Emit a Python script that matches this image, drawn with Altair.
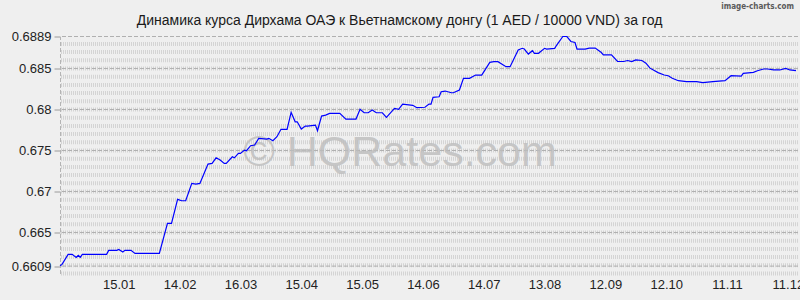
import altair as alt
import pandas as pd

# ---- data ----
dates = [
    "2022-12-17", "2022-12-18", "2022-12-21", "2022-12-23", "2022-12-25", "2022-12-26",
    "2022-12-27", "2022-12-28", "2023-01-09", "2023-01-10", "2023-01-14", "2023-01-15",
    "2023-01-17", "2023-01-18", "2023-01-21", "2023-01-23", "2023-02-04", "2023-02-08",
    "2023-02-10", "2023-02-13", "2023-02-15", "2023-02-17", "2023-02-20", "2023-02-22",
    "2023-02-24", "2023-02-28", "2023-03-02", "2023-03-04", "2023-03-06", "2023-03-08",
    "2023-03-09", "2023-03-12", "2023-03-13", "2023-03-15", "2023-03-16", "2023-03-18",
    "2023-03-19", "2023-03-21", "2023-03-23", "2023-03-25", "2023-03-29", "2023-03-30",
    "2023-04-01", "2023-04-03", "2023-04-05", "2023-04-08", "2023-04-10", "2023-04-12",
    "2023-04-13", "2023-04-15", "2023-04-17", "2023-04-18", "2023-04-22", "2023-04-23",
    "2023-04-25", "2023-04-27", "2023-04-29", "2023-05-04", "2023-05-07", "2023-05-12",
    "2023-05-14", "2023-05-16", "2023-05-18", "2023-05-20", "2023-05-22", "2023-05-25",
    "2023-05-27", "2023-05-31", "2023-06-02", "2023-06-04", "2023-06-09", "2023-06-11",
    "2023-06-15", "2023-06-17", "2023-06-18", "2023-06-19", "2023-06-22", "2023-06-23",
    "2023-06-25", "2023-06-28", "2023-06-29", "2023-07-02", "2023-07-04", "2023-07-07",
    "2023-07-10", "2023-07-13", "2023-07-17", "2023-07-19", "2023-07-21", "2023-07-25",
    "2023-07-27", "2023-07-31", "2023-08-02", "2023-08-03", "2023-08-05", "2023-08-07",
    "2023-08-08", "2023-08-10", "2023-08-13", "2023-08-14", "2023-08-18", "2023-08-19",
    "2023-08-22", "2023-08-24", "2023-08-26", "2023-08-28", "2023-08-29", "2023-09-02",
    "2023-09-04", "2023-09-07", "2023-09-10", "2023-09-11", "2023-09-15", "2023-09-18",
    "2023-09-21", "2023-09-23", "2023-09-25", "2023-09-27", "2023-09-30", "2023-10-02",
    "2023-10-04", "2023-10-08", "2023-10-11", "2023-10-13", "2023-10-15", "2023-10-18",
    "2023-10-22", "2023-10-27", "2023-10-30", "2023-11-04", "2023-11-10", "2023-11-13",
    "2023-11-18", "2023-11-19", "2023-11-24", "2023-11-26", "2023-11-29", "2023-12-01",
    "2023-12-04", "2023-12-07", "2023-12-10", "2023-12-12", "2023-12-15",
]
rates = [
    0.66094, 0.66111, 0.66233, 0.66233, 0.66196, 0.66221,
    0.66196, 0.66233, 0.66233, 0.66282, 0.66282, 0.66294,
    0.66261, 0.66282, 0.66282, 0.66245, 0.66245, 0.66611,
    0.66611, 0.66904, 0.66887, 0.66887, 0.67099, 0.67090,
    0.67099, 0.67334, 0.67343, 0.67411, 0.67383, 0.67343,
    0.67343, 0.67423, 0.67411, 0.67465, 0.67465, 0.67505,
    0.67497, 0.67558, 0.67566, 0.67648, 0.67639, 0.67648,
    0.67619, 0.67668, 0.67758, 0.67758, 0.67965, 0.67850,
    0.67850, 0.67761, 0.67798, 0.67798, 0.67810, 0.67741,
    0.67920, 0.67932, 0.67953, 0.67953, 0.67883, 0.67883,
    0.68002, 0.67960, 0.67960, 0.67993, 0.67960, 0.67960,
    0.67904, 0.68014, 0.68002, 0.68066, 0.68051, 0.68022,
    0.68027, 0.68066, 0.68066, 0.68148, 0.68155, 0.68216,
    0.68225, 0.68204, 0.68204, 0.68237, 0.68380, 0.68380,
    0.68420, 0.68420, 0.68575, 0.68583, 0.68583, 0.68522,
    0.68522, 0.68725, 0.68746, 0.68737, 0.68676, 0.68717,
    0.68685, 0.68685, 0.68746, 0.68737, 0.68746, 0.68786,
    0.68890, 0.68890, 0.68829, 0.68817, 0.68737, 0.68737,
    0.68749, 0.68749, 0.68695, 0.68667, 0.68667, 0.68585,
    0.68585, 0.68597, 0.68585, 0.68605, 0.68597, 0.68565,
    0.68504, 0.68450, 0.68420, 0.68412, 0.68380, 0.68351,
    0.68339, 0.68339, 0.68327, 0.68339, 0.68351, 0.68412,
    0.68408, 0.68441, 0.68453, 0.68473, 0.68494, 0.68494,
    0.68482, 0.68482, 0.68502, 0.68482, 0.68473,
]

y_ticks = [0.6609, 0.665, 0.67, 0.675, 0.68, 0.685, 0.6889]
x_tick_dates = [
    (2023, 1, 15), (2023, 2, 14), (2023, 3, 16), (2023, 4, 15), (2023, 5, 15),
    (2023, 6, 14), (2023, 7, 14), (2023, 8, 13), (2023, 9, 12), (2023, 10, 12),
    (2023, 11, 11), (2023, 12, 11),
]
minor_grid = [round(0.660 + 0.001 * i, 3) for i in range(29)]

title_text = "Динамика курса Дирхама ОАЭ к Вьетнамскому донгу (1 AED / 10000 VND) за год"
watermark = "© HQRates.com"
credit = "image-charts.com"

# ---- tables ----
df = pd.DataFrame({"date": pd.to_datetime(dates), "rate": rates})
minor_df = pd.DataFrame({"rate": minor_grid})
major_df = pd.DataFrame({"rate": y_ticks})

FONT = "Liberation Sans"

x_scale = alt.Scale(domain=[alt.DateTime(year=2022, month=12, date=17),
                            alt.DateTime(year=2023, month=12, date=16)])
y_scale = alt.Scale(domain=[0.660, 0.6889], nice=False, zero=False)

y_axis = alt.Axis(values=y_ticks, labelExpr="format(datum.value, '.4~g')",
                  labelFont=FONT, labelFontSize=13,
                  labelColor="#222222", grid=False, tickColor="#9a9a9a",
                  tickSize=6, labelPadding=3, domainColor="#b4b4b4",
                  domainDash=[4, 2], labelFlush=False, labelOverlap=False)
x_axis = alt.Axis(values=[alt.DateTime(year=a, month=b, date=c) for a, b, c in x_tick_dates],
                  format="%d.%m", labelFont=FONT, labelFontSize=13,
                  labelColor="#222222", ticks=False, domain=False, grid=False,
                  labelPadding=5, labelFlush=False, labelOverlap=False)

bands = alt.Chart(minor_df).mark_rule(
    color="#d4d4d4", strokeWidth=4, strokeDash=[1, 1]
).encode(y=alt.Y("rate:Q", scale=y_scale, axis=y_axis, title=None))

major = alt.Chart(major_df).mark_rule(
    color="#b0b0b0", strokeWidth=1, strokeDash=[4, 2]
).encode(y=alt.Y("rate:Q", scale=y_scale, axis=y_axis, title=None))

wm = alt.Chart(pd.DataFrame({"t": [watermark]})).mark_text(
    font=FONT, fontSize=43, color="#bdbdbd", opacity=0.8,
    align="center", baseline="alphabetic"
).encode(text="t:N", x=alt.value(340), y=alt.value(129))

cr = alt.Chart(pd.DataFrame({"t": [credit]})).mark_text(
    font="DejaVu Sans Condensed", fontSize=8, fontWeight="bold", color="#5a5a5a",
    align="right", baseline="alphabetic"
).encode(text="t:N", x=alt.value(734), y=alt.value(-28))

ttl = alt.Chart(pd.DataFrame({"t": [title_text]})).mark_text(
    font=FONT, fontSize=14, color="#1a1a1a", align="center", baseline="alphabetic"
).encode(text="t:N", x=alt.value(339.5), y=alt.value(-11.5))

line = alt.Chart(df).mark_line(color="#0000ff", strokeWidth=1.2).encode(
    x=alt.X("date:T", scale=x_scale, title=None, axis=x_axis),
    y=alt.Y("rate:Q", scale=y_scale, title=None, axis=y_axis),
)

chart = alt.layer(bands, major, wm, line, cr, ttl).properties(
    width=738,
    height=237,
    padding={"left": 60, "top": 36.5, "right": 2, "bottom": 26.5},
    autosize=alt.AutoSizeParams(type="none"),
    background="#efefef",
).configure_view(stroke=None)

chart.save("out.html", embed_options={"renderer": "svg", "actions": False})
